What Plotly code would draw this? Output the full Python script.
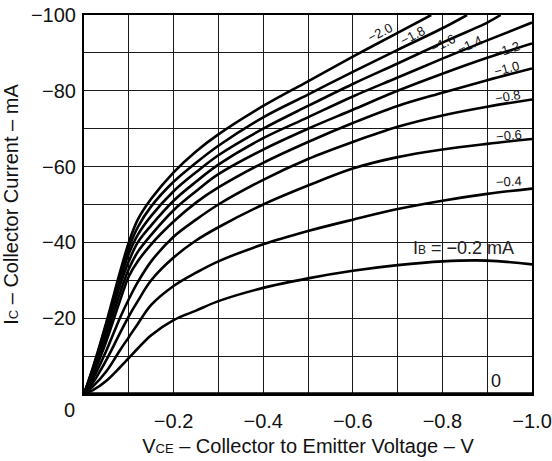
import plotly.graph_objects as go

# ---- data ----
vce = [0, -0.02, -0.05, -0.08, -0.1, -0.12, -0.15, -0.2, -0.25, -0.3, -0.4, -0.5, -0.6, -0.7, -0.8, -0.9, -1.0]

ic_b02 = [0, -1, -3.5, -7, -9.5, -12, -15.5, -19.5, -22, -24.5, -28, -30.5, -32.5, -34, -35, -35.2, -34.2]
ic_b04 = [0, -2, -6, -11.5, -15, -18.5, -23.5, -28.5, -32, -35, -39.5, -43, -46, -48.8, -51, -52.8, -54.2]
ic_b06 = [0, -3, -9, -16, -20.5, -24.5, -30, -36, -40.5, -44, -50, -55, -59.5, -62.5, -64.5, -66, -67.3]
ic_b08 = [0, -4, -11.5, -20, -25, -29.5, -35, -41.5, -46, -50, -56.5, -62, -66.5, -70.5, -73.5, -75.8, -77.7]
ic_b10 = [0, -5, -14, -24.5, -31, -35, -39.5, -45.5, -50.5, -54.5, -61, -66.5, -71.5, -76, -79.5, -82.8, -85.9]
ic_b12 = [0, -5.5, -15.5, -26.5, -33, -37.5, -42, -48.5, -53.5, -58, -64.5, -70, -75, -80, -84.5, -88.7, -92.5]
ic_b14 = [0, -6, -17, -28.5, -35, -40, -44.5, -51, -56, -60.5, -67.5, -73, -78.5, -83.5, -88.5, -93.3, -98]

vce_b16 = [0, -0.02, -0.05, -0.08, -0.1, -0.12, -0.15, -0.2, -0.25, -0.3, -0.4, -0.5, -0.6, -0.7, -0.8, -0.9, -0.93]
ic_b16 = [0, -6.5, -18, -30, -37, -42, -47, -53.5, -58.5, -63, -70, -76, -81.8, -87.2, -92.7, -98, -100]
vce_b18 = [0, -0.02, -0.05, -0.08, -0.1, -0.12, -0.15, -0.2, -0.25, -0.3, -0.4, -0.5, -0.6, -0.7, -0.8, -0.855]
ic_b18 = [0, -6.8, -18.5, -31, -38.5, -44, -49.5, -56, -61, -65.5, -73, -79, -85, -90.8, -96.5, -100]
vce_b20 = [0, -0.02, -0.05, -0.08, -0.1, -0.12, -0.15, -0.2, -0.25, -0.3, -0.4, -0.5, -0.6, -0.7, -0.775]
ic_b20 = [0, -7, -19, -32, -40, -46, -51.5, -58.5, -64, -68.5, -76, -82.5, -89, -95.3, -100]

vce_b00 = [0, -1.0]
ic_b00 = [0, 0]

x_ticks = [-0.1, -0.2, -0.3, -0.4, -0.5, -0.6, -0.7, -0.8, -0.9, -1.0]
x_ticktext = ["", "\u22120.2", "", "\u22120.4", "", "\u22120.6", "", "\u22120.8", "", "\u22121.0"]
y_ticks = [-100, -90, -80, -70, -60, -50, -40, -30, -20, -10]
y_ticktext = ["\u2212100", "", "\u221280", "", "\u221260", "", "\u221240", "", "\u221220", ""]

# curve labels: text, V, I, angle
lab_text = ["\u22122.0", "\u22121.8", "\u22121.6", "\u22121.4", "\u22121.2", "\u22121.0", "\u22120.8", "\u22120.6", "\u22120.4"]
lab_v = [-0.661, -0.734, -0.801, -0.862, -0.944, -0.944, -0.946, -0.949, -0.949]
lab_i = [-95.5, -94.5, -92.6, -92.1, -91.0, -85.8, -78.4, -68.3, -56.2]
lab_ang = [-28, -28, -27, -25, -18, -15, -10, -6, -3]

FONT = "Liberation Sans, Arial, Helvetica, sans-serif"

fig = go.Figure()
curves = [
    (vce, ic_b02), (vce, ic_b04), (vce, ic_b06), (vce, ic_b08), (vce, ic_b10),
    (vce, ic_b12), (vce, ic_b14), (vce_b16, ic_b16), (vce_b18, ic_b18), (vce_b20, ic_b20),
]
for xs, ys in curves:
    fig.add_trace(go.Scatter(x=xs, y=ys, mode="lines",
                             line=dict(color="black", width=2.6, shape="spline", smoothing=1.0),
                             showlegend=False, hoverinfo="skip"))
fig.add_trace(go.Scatter(x=vce_b00, y=ic_b00, mode="lines",
                         line=dict(color="black", width=3.5),
                         showlegend=False, hoverinfo="skip", cliponaxis=False))

annotations = []
for t, v, i, a in zip(lab_text, lab_v, lab_i, lab_ang):
    annotations.append(dict(x=v, y=i, text=t, showarrow=False, textangle=a,
                            font=dict(size=13, color="#111", family=FONT)))
annotations.append(dict(x=-0.848, y=-38.5, text="I<span style='font-size:12px'>B</span> = \u22120.2 mA",
                        showarrow=False, font=dict(size=18, color="#222", family=FONT)))
annotations.append(dict(x=-0.92, y=-3.4, text="0", showarrow=False,
                        font=dict(size=18, color="#111", family=FONT)))
annotations.append(dict(x=0, y=0, xref="x", yref="y", text="0", showarrow=False,
                        xshift=-15, yshift=-16, font=dict(size=20, color="#111", family=FONT)))

GRID = "#1a1a1a"
fig.update_layout(
    width=552, height=461,
    margin=dict(l=84, r=20, t=15, b=67),
    paper_bgcolor="white", plot_bgcolor="white",
    font=dict(family=FONT, size=20, color="#111"),
    annotations=annotations,
    xaxis=dict(
        range=[0, -1.0], tickvals=x_ticks, ticktext=x_ticktext, automargin=False,
        showgrid=True, gridcolor=GRID, gridwidth=1.3,
        showline=True, linecolor="black", linewidth=2, mirror=True,
        zeroline=False, ticks="", ticklabelstandoff=8,
        tickfont=dict(size=20, family=FONT, color="#111"),
        title=dict(text="V<span style='font-size:13px'>CE</span> \u2013 Collector to Emitter Voltage \u2013 V",
                   font=dict(size=20, family=FONT, color="#111"), standoff=8),
    ),
    yaxis=dict(
        range=[0, -100], tickvals=y_ticks, ticktext=y_ticktext, automargin=False,
        showgrid=True, gridcolor=GRID, gridwidth=1.3,
        showline=True, linecolor="black", linewidth=2, mirror=True,
        zeroline=False, ticks="", ticklabelstandoff=2,
        tickfont=dict(size=20, family=FONT, color="#111"),
        title=dict(text="I<span style='font-size:13px'>C</span> \u2013 Collector Current \u2013 mA",
                   font=dict(size=20, family=FONT, color="#111"), standoff=10),
    ),
)

fig.write_html("out.html", config={"displayModeBar": False},
               post_script="document.body.style.margin='0';")
